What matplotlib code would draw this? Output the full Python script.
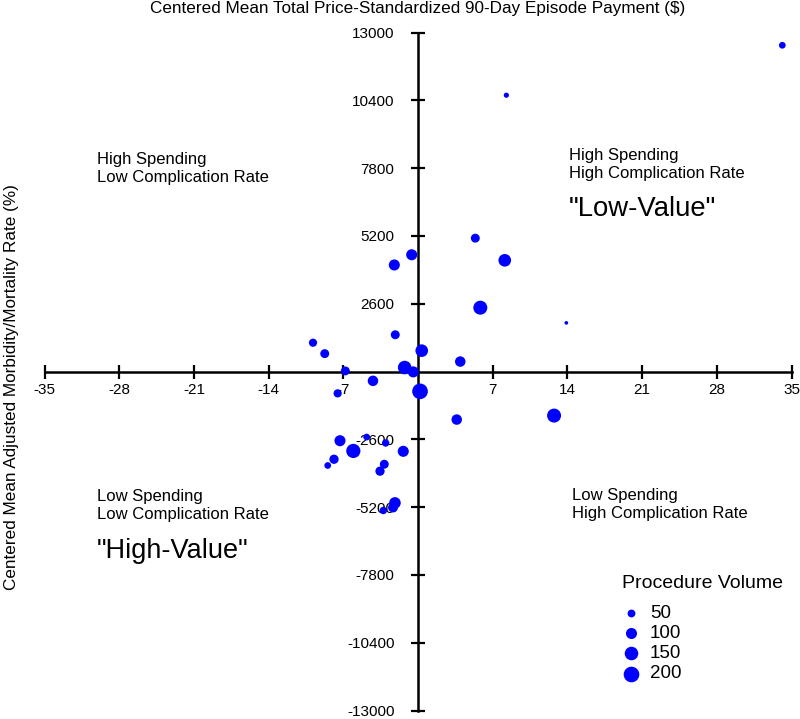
import matplotlib
matplotlib.use("Agg")
import matplotlib.pyplot as plt
import numpy as np

plt.rcParams['font.family'] = ['Liberation Sans', 'DejaVu Sans']

# Centered mean adjusted morbidity/mortality rate (%)
rate = [-9.84, -8.74, -6.81, -4.22, -2.13, -7.53, -1.25, -0.44, 0.35, 0.19,
        -7.31, -6.06, -7.87, -8.46, -4.81, -3.03, -1.38, -3.16, -3.56, -2.16,
        -2.34, -3.25, 5.37, -0.59, -2.22, 8.13, 5.84, 3.96, 3.63, 12.75,
        8.28, 34.14, 13.9]
# Centered mean total price-standardized 90-day episode payment ($)
payment = [1104, 685, 23, -358, 1409, -838, 152, -15, 799, -761,
           -2654, -3046, -3365, -3605, -2513, -2741, -3061, -3556, -3822, -5040,
           -5216, -5330, 5113, 4477, 4085, 4264, 2448, 381, -1843, -1690,
           10595, 12510, 1865]
# Procedure volume
volume = [55, 65, 65, 90, 65, 55, 150, 100, 130, 200,
          100, 165, 70, 37, 37, 45, 100, 65, 70, 110,
          80, 45, 65, 100, 100, 130, 160, 90, 90, 160,
          22, 37, 11]

xticks = [-35, -28, -21, -14, -7, 7, 14, 21, 28, 35]
yticks = [-13000, -10400, -7800, -5200, -2600, 2600, 5200, 7800, 10400, 13000]
legend_volumes = [50, 100, 150, 200]

SIZE_FACTOR = 0.635
BLUE = '#0000FF'

W, H = 800, 719
fig = plt.figure(figsize=(W / 100, H / 100), dpi=100)
ax_left, ax_right, ax_top, ax_bottom = 44.5, 791.5, 32.5, 710.5
ax = fig.add_axes([ax_left / W, 1 - ax_bottom / H,
                   (ax_right - ax_left) / W, (ax_bottom - ax_top) / H])
ax.set_xlim(-35, 35)
ax.set_ylim(-13000, 13000)
ax.patch.set_alpha(0)

ax.scatter(rate, payment, s=np.array(volume) * SIZE_FACTOR, c=BLUE,
           edgecolors='none', zorder=3)

for side in ['top', 'right']:
    ax.spines[side].set_visible(False)
ax.spines['left'].set_position(('data', 0))
ax.spines['bottom'].set_position(('data', 0))
for side in ['left', 'bottom']:
    ax.spines[side].set_linewidth(1.8)

ax.set_xticks(xticks)
ax.set_xticklabels([str(t) for t in xticks])
ax.set_yticks(yticks)
ax.set_yticklabels([str(t) for t in yticks])
ax.tick_params(axis='both', direction='inout', length=10, width=1.6,
               labelsize=11, colors='black')
ax.tick_params(axis='x', pad=3)
ax.tick_params(axis='y', pad=12)


def ftext(px, py, s, **kw):
    return fig.text(px / W, 1 - py / H, s, **kw)


# Titles
ftext(418, 9, 'Centered Mean Total Price-Standardized 90-Day Episode Payment ($)',
      ha='center', va='center', fontsize=12.3)
ftext(12, 387, 'Centered Mean Adjusted Morbidity/Mortality Rate (%)',
      ha='center', va='center', rotation=90, fontsize=12.3)

# Quadrant annotations
ftext(97, 168.5, 'High Spending\nLow Complication Rate', ha='left', va='center',
      fontsize=12, linespacing=1.3)
ftext(569, 164.5, 'High Spending\nHigh Complication Rate', ha='left', va='center',
      fontsize=12, linespacing=1.3)
ftext(569, 209, '"Low-Value"', ha='left', va='center', fontsize=19.8)
ftext(97, 505.5, 'Low Spending\nLow Complication Rate', ha='left', va='center',
      fontsize=12, linespacing=1.3)
ftext(572, 504.5, 'Low Spending\nHigh Complication Rate', ha='left', va='center',
      fontsize=12, linespacing=1.3)
ftext(97, 551, '"High-Value"', ha='left', va='center', fontsize=19.5)

# Legend (title + entries)
ftext(622, 583, 'Procedure Volume', ha='left', va='center', fontsize=14)
legend_rows = [613, 633, 653, 674]
for v, py in zip(legend_volumes, legend_rows):
    fig.add_artist(matplotlib.lines.Line2D([631 / W], [1 - py / H], marker='o',
                                           markersize=np.sqrt(v * SIZE_FACTOR),
                                           color=BLUE, markeredgewidth=0,
                                           linestyle='none',
                                           transform=fig.transFigure))
    ftext(650, py, str(v), ha='left', va='center', fontsize=13.5)

fig.savefig('out.png', dpi=100)
